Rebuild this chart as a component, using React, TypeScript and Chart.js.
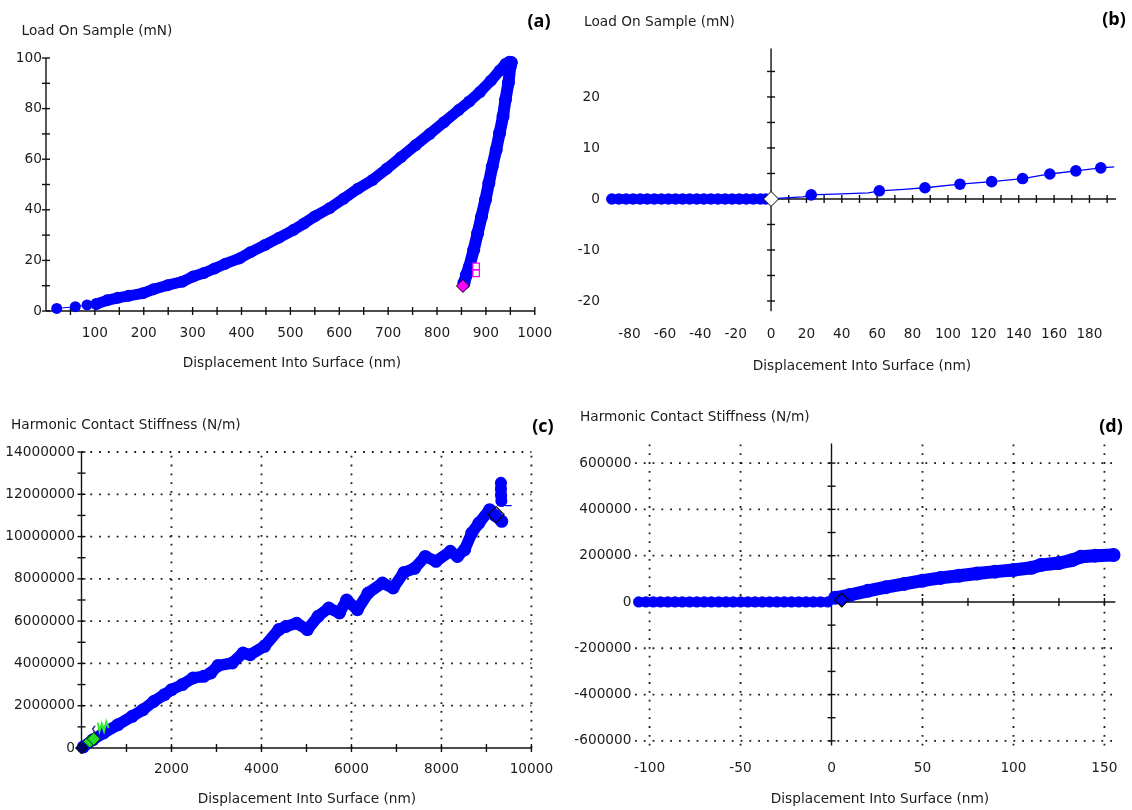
import { useEffect, useRef } from "react";
import { Chart, registerables } from "chart.js";

Chart.register(...registerables);

const FONT_FAMILY = "'DejaVu Sans', 'Liberation Sans', sans-serif";
const TICK_FONT_SIZE = 13.7;
const INK = "#1c1c1c";
const BLUE = "#0000ff";

// ---------- (a) Load on sample, full load / unload cycle ----------
const approachX = [22, 60, 84, 103];
const approachY = [1.0, 1.7, 2.4, 2.8];
const loadingX = [103, 125, 147, 169, 198, 220, 249, 279, 301, 323, 345, 367, 396, 418, 448, 477, 506, 528, 550, 580, 609, 638, 668, 697, 726, 756, 785, 814, 844, 866, 888, 910, 928, 940, 948, 952];
const loadingY = [2.8, 4.2, 5.2, 6.0, 7.0, 8.6, 10.2, 11.6, 13.6, 15.0, 16.8, 18.7, 20.8, 23.2, 26.1, 29.0, 32.0, 34.6, 37.4, 40.6, 44.4, 48.3, 51.8, 56.2, 60.8, 65.5, 70.0, 74.6, 79.4, 82.8, 86.6, 91.0, 95.0, 97.6, 98.5, 98.2];
const unloadingX = [952, 950, 946, 940, 935, 928, 921, 913, 906, 899, 891, 883, 875, 866, 860, 855];
const unloadingY = [98.2, 96.7, 90.1, 83.5, 76.9, 70.3, 63.7, 57.1, 50.5, 43.9, 37.3, 30.7, 24.1, 17.5, 14.2, 11.0];
const aEndDiamondX = [853];
const aEndDiamondY = [9.9];
const aEndSquareX = [880, 880];
const aEndSquareY = [17.6, 14.9];
const aXLabels = [100, 200, 300, 400, 500, 600, 700, 800, 900, 1000];
const aYLabels = [0, 20, 40, 60, 80, 100];

// ---------- (b) Load on sample, surface contact region ----------
const bPreContactX = [-90, -86, -82, -78, -74, -70, -66, -62, -58, -54, -50, -46, -42, -38, -34, -30, -26, -22, -18, -14, -10, -6, -3];
const bPreContactY = [0, 0, 0, 0, 0, 0, 0, 0, 0, 0, 0, 0, 0, 0, 0, 0, 0, 0, 0, 0, 0, 0, 0];
const bTraceX = [0, 8, 18, 22.7, 40, 55, 61.2, 75, 87, 106.8, 124.7, 142.2, 157.6, 172.3, 186.4, 194];
const bTraceY = [0, 0.2, 0.4, 0.8, 1.0, 1.2, 1.6, 1.9, 2.2, 2.9, 3.4, 4.0, 4.9, 5.5, 6.1, 6.3];
const bMarkerX = [22.7, 61.2, 87, 106.8, 124.7, 142.2, 157.6, 172.3, 186.4];
const bMarkerY = [0.8, 1.6, 2.2, 2.9, 3.4, 4.0, 4.9, 5.5, 6.1];
const bXLabels = [-80, -60, -40, -20, 0, 20, 40, 60, 80, 100, 120, 140, 160, 180];
const bYLabels = [-20, -10, 0, 10, 20];

// ---------- (c) Harmonic contact stiffness, full depth ----------
const cStiffX = [40, 254, 492, 810, 1128, 1366, 1604, 1843, 2002, 2240, 2478, 2716, 2875, 3034, 3352, 3590, 3749, 4067, 4385, 4544, 4782, 5020, 5258, 5496, 5734, 5893, 6132, 6370, 6688, 6926, 7164, 7402, 7641, 7879, 8197, 8356, 8515, 8674, 8833, 9071, 9190, 9340];
const cStiffY = [50000, 390000, 710000, 1100000, 1500000, 1810000, 2200000, 2520000, 2760000, 3000000, 3310000, 3390000, 3550000, 3900000, 4020000, 4490000, 4410000, 4810000, 5600000, 5750000, 5900000, 5600000, 6230000, 6620000, 6390000, 7000000, 6540000, 7330000, 7800000, 7570000, 8300000, 8500000, 9060000, 8830000, 9300000, 9060000, 9380000, 10170000, 10640000, 11270000, 11000000, 10720000];
const cTopX = [9322, 9322, 9326, 9332];
const cTopY = [12540000, 12250000, 11950000, 11680000];
const cTailX = [9332, 9430, 9560];
const cTailY = [11680000, 11470000, 11460000];
const cStartDiamondX = [0];
const cStartDiamondY = [0];
const cGreenDiamondX = [183, 272];
const cGreenDiamondY = [310000, 430000];
const cGreenTraceX = [360, 400, 450, 500, 550, 600];
const cGreenTraceY = [1200000, 800000, 1150000, 800000, 1250000, 950000];
const cNavyTraceX = [300, 250, 290, 240];
const cNavyTraceY = [1050000, 900000, 750000, 600000];
const cMarkDiamondX = [9214];
const cMarkDiamondY = [11040000];
const cXLabels = [2000, 4000, 6000, 8000, 10000];
const cYLabels = [0, 2000000, 4000000, 6000000, 8000000, 10000000, 12000000, 14000000];

// ---------- (d) Harmonic contact stiffness, surface contact region ----------
const dPreContactX = [-106, -102, -98, -94, -90, -86, -82, -78, -74, -70, -66, -62, -58, -54, -50, -46, -42, -38, -34, -30, -26, -22, -18, -14, -10, -6, -2];
const dPreContactY = [0, 0, 0, 0, 0, 0, 0, 0, 0, 0, 0, 0, 0, 0, 0, 0, 0, 0, 0, 0, 0, 0, 0, 0, 0, 0, 0];
const dStiffX = [2, 10, 20, 30, 40, 50, 60, 70, 80, 90, 100, 110, 115, 125, 132, 137, 145, 155];
const dStiffY = [18000, 30000, 48000, 64000, 78000, 92000, 104000, 113000, 123000, 131000, 138000, 148000, 160000, 168000, 180000, 195000, 200000, 203000];
const dContactX = [5.6];
const dContactY = [8600];
const dXLabels = [-100, -50, 0, 50, 100, 150];
const dYLabels = [-600000, -400000, -200000, 0, 200000, 400000, 600000];

const steps = (from: number, to: number, step: number) => {
  const out: number[] = [];
  for (let v = from; v <= to + step * 1e-6; v += step) out.push(v);
  return out;
};

const pts = (xs: number[], ys: number[]) => xs.map((x, i) => ({ x, y: ys[i] }));

type Frame = {
  vAxisAt: number;
  hAxisAt: number;
  hAxisFrom?: number;
  vMarks: number[];
  hMarks: number[];
  gridX?: number[];
  gridY?: number[];
};

// Axis lines through the origin, crossing tick marks and a dotted grid.
function framePlugin(f: Frame) {
  return {
    id: "frame",
    beforeDatasetsDraw(chart: any) {
      const { ctx, chartArea: a } = chart;
      const xs = chart.scales.x;
      const ys = chart.scales.y;
      const seg = (x1: number, y1: number, x2: number, y2: number) => {
        ctx.beginPath();
        ctx.moveTo(x1, y1);
        ctx.lineTo(x2, y2);
        ctx.stroke();
      };
      ctx.save();
      ctx.strokeStyle = "#1a1a1a";
      ctx.lineWidth = 1.8;
      ctx.setLineDash([1.8, 7]);
      for (const v of f.gridX ?? []) {
        const px = xs.getPixelForValue(v);
        seg(px, a.bottom, px, a.top);
      }
      for (const v of f.gridY ?? []) {
        const py = ys.getPixelForValue(v);
        seg(a.left, py, a.right, py);
      }
      ctx.setLineDash([]);
      ctx.strokeStyle = "#111";
      ctx.lineWidth = 1.4;
      const ax = xs.getPixelForValue(f.vAxisAt);
      const ay = ys.getPixelForValue(f.hAxisAt);
      seg(ax, a.top, ax, a.bottom);
      seg(xs.getPixelForValue(f.hAxisFrom ?? xs.min), ay, a.right, ay);
      for (const v of f.vMarks) {
        const py = ys.getPixelForValue(v);
        seg(ax - 4, py, ax + 4, py);
      }
      for (const v of f.hMarks) {
        const px = xs.getPixelForValue(v);
        seg(px, ay - 4, px, ay + 4);
      }
      ctx.restore();
    },
  };
}

function linearScale(min: number, max: number, labels: number[], pad: number, size: number, horizontal: boolean) {
  return {
    type: "linear",
    min,
    max,
    grid: { display: false, drawTicks: false },
    border: { display: false },
    afterBuildTicks: (s: any) => {
      s.ticks = labels.map((value) => ({ value }));
    },
    afterFit: (s: any) => {
      if (horizontal) s.height = size;
      else s.width = size;
    },
    ticks: {
      padding: pad,
      color: INK,
      autoSkip: false,
      maxRotation: 0,
      minRotation: 0,
      font: { family: FONT_FAMILY, size: TICK_FONT_SIZE },
      callback: (v: number) => String(v),
    },
  };
}

function band(xs: number[], ys: number[], width: number, radius: number, order: number) {
  return {
    data: pts(xs, ys),
    showLine: true,
    borderColor: BLUE,
    borderWidth: width,
    backgroundColor: BLUE,
    pointRadius: radius,
    pointBorderWidth: 0,
    pointHoverRadius: radius,
    borderJoinStyle: "round",
    borderCapStyle: "round",
    clip: false,
    order,
  };
}

function marks(xs: number[], ys: number[], style: string, radius: number, fill: string, stroke: string, strokeWidth: number, order: number) {
  return {
    data: pts(xs, ys),
    showLine: false,
    pointStyle: style,
    pointRadius: radius,
    pointHoverRadius: radius,
    backgroundColor: fill,
    borderColor: stroke,
    pointBorderWidth: strokeWidth,
    borderWidth: strokeWidth,
    clip: false,
    order,
  };
}

function thinLine(xs: number[], ys: number[], color: string, width: number, order: number) {
  return {
    data: pts(xs, ys),
    showLine: true,
    borderColor: color,
    borderWidth: width,
    pointRadius: 0,
    pointHoverRadius: 0,
    clip: false,
    order,
  };
}

type PanelSpec = {
  w: number;
  h: number;
  area: { left: number; top: number; right: number; bottom: number };
  x: { min: number; max: number; labels: number[]; pad: number };
  y: { min: number; max: number; labels: number[]; pad: number };
  frame: Frame;
  datasets: any[];
};

function buildConfig(p: PanelSpec) {
  return {
    type: "scatter",
    data: { datasets: p.datasets },
    options: {
      responsive: false,
      animation: false,
      devicePixelRatio: 1,
      events: [],
      layout: { padding: { left: 0, top: p.area.top, right: p.w - p.area.right, bottom: 0 } },
      plugins: { legend: { display: false }, tooltip: { enabled: false }, title: { display: false } },
      scales: {
        x: linearScale(p.x.min, p.x.max, p.x.labels, p.x.pad, p.h - p.area.bottom, true),
        y: linearScale(p.y.min, p.y.max, p.y.labels, p.y.pad, p.area.left, false),
      },
    },
    plugins: [framePlugin(p.frame)],
  };
}

const panelA: PanelSpec = {
  w: 566,
  h: 400,
  area: { left: 46, top: 58, right: 536, bottom: 311 },
  x: { min: 0, max: 1000, labels: aXLabels, pad: 13.8 },
  y: { min: 0, max: 100, labels: aYLabels, pad: 4 },
  frame: { vAxisAt: 0, hAxisAt: 0, vMarks: steps(0, 100, 10), hMarks: steps(50, 1000, 50) },
  datasets: [
    marks(aEndDiamondX, aEndDiamondY, "rectRot", 6.5, "#ff00ff", "#000000", 1, 0),
    marks(aEndSquareX, aEndSquareY, "rect", 4.6, "#ffffff", "#ff00ff", 1.3, 1),
    band(loadingX, loadingY, 11, 6, 3),
    band(unloadingX, unloadingY, 12, 6.5, 2),
    band(approachX, approachY, 1, 5.5, 4),
  ],
};

const panelB: PanelSpec = {
  w: 566,
  h: 400,
  area: { left: 37, top: 48.5, right: 550, bottom: 311.2 },
  x: { min: -95, max: 195, labels: bXLabels, pad: 14.6 },
  y: { min: -22, max: 29.5, labels: bYLabels, pad: 3 },
  frame: { vAxisAt: 0, hAxisAt: 0, hAxisFrom: 0, vMarks: steps(-20, 25, 5), hMarks: steps(10, 190, 10) },
  datasets: [
    marks([0], [0], "rectRot", 7.5, "#ffffff", "#000000", 1, 0),
    marks(bMarkerX, bMarkerY, "circle", 5.8, BLUE, BLUE, 0, 1),
    thinLine(bTraceX, bTraceY, BLUE, 1.3, 2),
    band(bPreContactX, bPreContactY, 9, 5.8, 3),
  ],
};

const panelC: PanelSpec = {
  w: 566,
  h: 410,
  area: { left: 81.5, top: 52, right: 533.5, bottom: 348 },
  x: { min: 0, max: 10000, labels: cXLabels, pad: 12.8 },
  y: { min: 0, max: 14000000, labels: cYLabels, pad: 6.5 },
  frame: {
    vAxisAt: 0,
    hAxisAt: 0,
    vMarks: steps(0, 14000000, 1000000),
    hMarks: steps(1000, 10000, 1000),
    gridX: [2000, 4000, 6000, 8000, 10000],
    gridY: [2000000, 4000000, 6000000, 8000000, 10000000, 12000000, 14000000],
  },
  datasets: [
    marks(cMarkDiamondX, cMarkDiamondY, "rectRot", 8, "rgba(0,0,0,0)", "#000022", 1.2, 0),
    marks(cStartDiamondX, cStartDiamondY, "rectRot", 6, "#000066", "#000000", 1, 1),
    marks(cGreenDiamondX, cGreenDiamondY, "rectRot", 6.5, "#22dd22", "#003300", 1, 2),
    thinLine(cGreenTraceX, cGreenTraceY, "#33ee33", 2, 3),
    thinLine(cNavyTraceX, cNavyTraceY, "#333399", 1.5, 4),
    thinLine(cTailX, cTailY, BLUE, 1.3, 5),
    band(cTopX, cTopY, 11, 6, 6),
    band(cStiffX, cStiffY, 11.5, 6.5, 7),
  ],
};

const panelD: PanelSpec = {
  w: 566,
  h: 410,
  area: { left: 69, top: 43.4, right: 557, bottom: 345.5 },
  x: { min: -108, max: 156, labels: dXLabels, pad: 14.3 },
  y: { min: -620000, max: 685000, labels: dYLabels, pad: 3.5 },
  frame: {
    vAxisAt: 0,
    hAxisAt: 0,
    hAxisFrom: 0,
    vMarks: steps(-600000, 600000, 100000),
    hMarks: steps(25, 150, 25),
    gridX: [-100, -50, 50, 100, 150],
    gridY: [-600000, -400000, -200000, 200000, 400000, 600000],
  },
  datasets: [
    marks(dContactX, dContactY, "rectRot", 7, BLUE, "#000000", 1.2, 0),
    band(dStiffX, dStiffY, 13, 7, 1),
    band(dPreContactX, dPreContactY, 9, 5.6, 2),
  ],
};

function Panel({ left, top, spec }: { left: number; top: number; spec: PanelSpec }) {
  const ref = useRef<HTMLCanvasElement>(null);
  useEffect(() => {
    const chart = new Chart(ref.current as HTMLCanvasElement, buildConfig(spec) as any);
    return () => chart.destroy();
  }, [spec]);
  return (
    <canvas
      ref={ref}
      width={spec.w}
      height={spec.h}
      style={{ position: "absolute", left, top, width: spec.w, height: spec.h }}
    />
  );
}

const textBase: any = {
  position: "absolute",
  fontFamily: FONT_FAMILY,
  fontSize: TICK_FONT_SIZE,
  lineHeight: "16px",
  color: INK,
  whiteSpace: "nowrap",
};

function Label({ x, y, text, center }: { x: number; y: number; text: string; center?: boolean }) {
  return (
    <div style={{ ...textBase, left: x, top: y, transform: center ? "translate(-50%, -50%)" : "translate(0, -50%)" }}>
      {text}
    </div>
  );
}

function Tag({ x, y, text }: { x: number; y: number; text: string }) {
  return (
    <div
      style={{
        position: "absolute",
        left: x,
        top: y,
        transform: "translate(-50%, -50%)",
        fontFamily: "'Open Sans', 'Liberation Sans', sans-serif",
        fontWeight: 700,
        fontSize: 18,
        lineHeight: "20px",
        color: "#000",
        whiteSpace: "nowrap",
      }}
    >
      {text}
    </div>
  );
}

const LOAD_TITLE = "Load On Sample (mN)";
const STIFF_TITLE = "Harmonic Contact Stiffness (N/m)";
const DEPTH_TITLE = "Displacement Into Surface (nm)";

export default function App() {
  return (
    <div style={{ position: "absolute", left: 0, top: 0, width: 1132, height: 810, background: "#ffffff", overflow: "hidden" }}>
      <Panel left={0} top={0} spec={panelA} />
      <Panel left={566} top={0} spec={panelB} />
      <Panel left={0} top={400} spec={panelC} />
      <Panel left={566} top={400} spec={panelD} />

      <Label x={21.5} y={30} text={LOAD_TITLE} />
      <Label x={584} y={20.7} text={LOAD_TITLE} />
      <Label x={11} y={424} text={STIFF_TITLE} />
      <Label x={580} y={416} text={STIFF_TITLE} />

      <Label x={292} y={362} text={DEPTH_TITLE} center />
      <Label x={862} y={365} text={DEPTH_TITLE} center />
      <Label x={307} y={798} text={DEPTH_TITLE} center />
      <Label x={880} y={798} text={DEPTH_TITLE} center />

      <Tag x={539} y={20} text="(a)" />
      <Tag x={1114} y={18} text="(b)" />
      <Tag x={543} y={425} text="(c)" />
      <Tag x={1111} y={425} text="(d)" />
    </div>
  );
}
